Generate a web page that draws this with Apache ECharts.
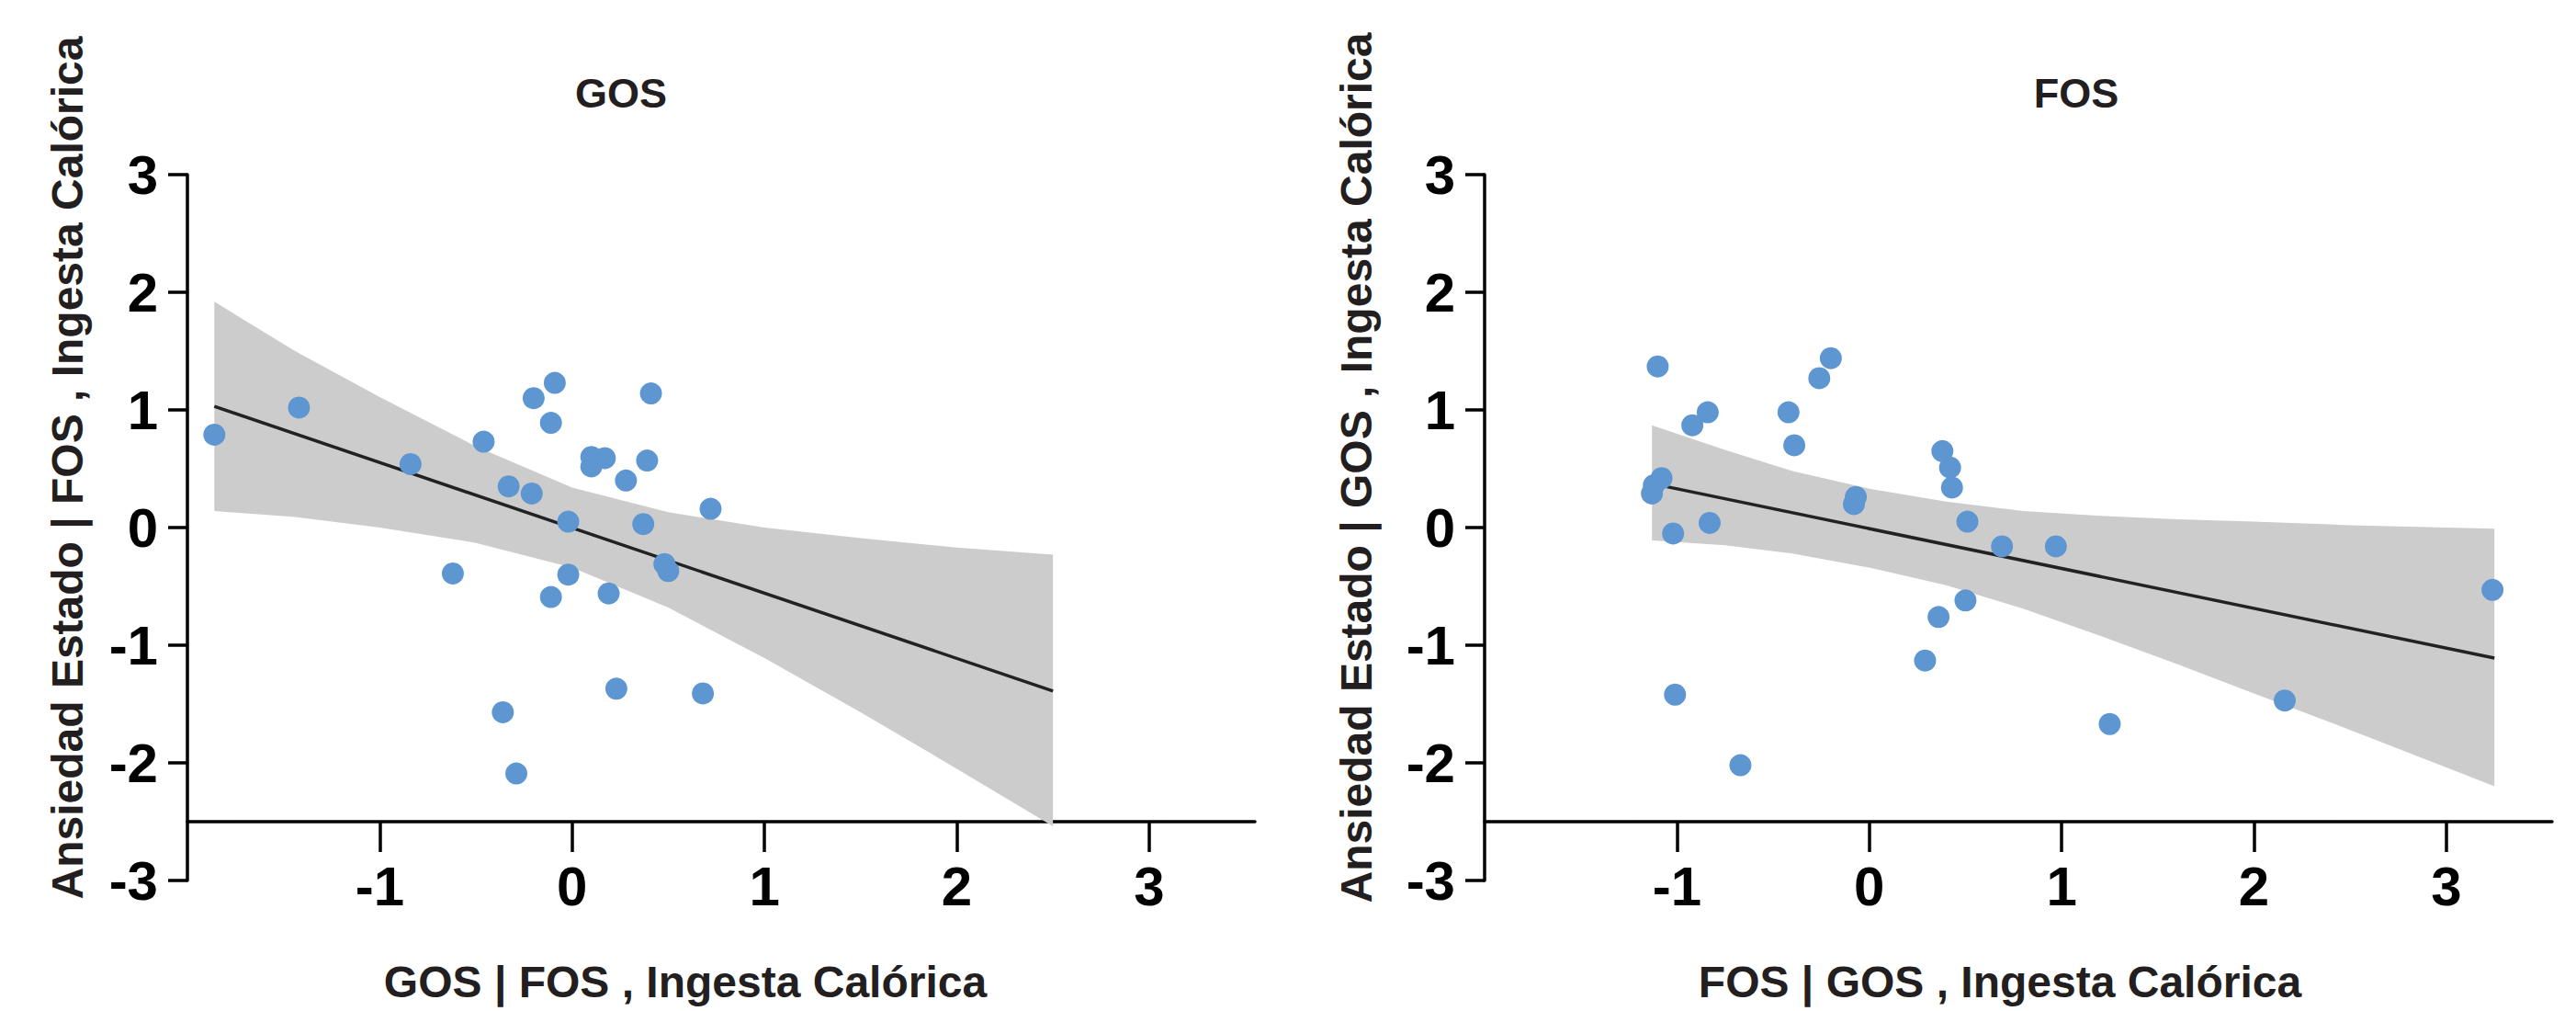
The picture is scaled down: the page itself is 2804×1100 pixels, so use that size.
<!DOCTYPE html>
<html>
<head>
<meta charset="utf-8">
<script src="https://cdn.jsdelivr.net/npm/echarts@6/dist/echarts.min.js"></script>
<style>
html,body{margin:0;padding:0;background:#fff;}
#chart{width:2804px;height:1100px;}
</style>
</head>
<body>
<div id="chart"></div>
<script>
// ---------- data ----------
const xTicks = [-1, 0, 1, 2, 3];
const yTicks = [-3, -2, -1, 0, 1, 2, 3];

const gosTitle = 'GOS';
const gosXName = 'GOS | FOS , Ingesta Calórica';
const gosYName = 'Ansiedad Estado | FOS , Ingesta Calórica';
const gosX = [-1.86, -1.42, -0.84, -0.46, -0.20, -0.09, -0.11, 0.41, 0.10, 0.17, 0.10, 0.39, 0.28, -0.33,
              -0.21, -0.02, 0.37, 0.48, 0.50, 0.72, -0.62, -0.02, -0.11, 0.19, 0.23, -0.36, -0.29, 0.68];
const gosY = [0.79, 1.02, 0.54, 0.73, 1.10, 1.23, 0.89, 1.14, 0.60, 0.59, 0.52, 0.57, 0.40, 0.35,
              0.29, 0.05, 0.03, -0.31, -0.37, 0.16, -0.39, -0.40, -0.59, -0.56, -1.37, -1.57, -2.09, -1.41];
const gosLineX = [-1.86, 2.50];
const gosLineY = [1.03, -1.39];
const gosBandX     = [-1.86, -1.44, -1.00, -0.50, 0.00, 0.50, 1.00, 1.50, 2.00, 2.50];
const gosBandUpper = [1.92, 1.50, 1.11, 0.69, 0.34, 0.13, 0.00, -0.09, -0.17, -0.23];
const gosBandLower = [0.14, 0.09, 0.00, -0.13, -0.34, -0.68, -1.11, -1.57, -2.05, -2.54];

const fosTitle = 'FOS';
const fosXName = 'FOS | GOS , Ingesta Calórica';
const fosYName = 'Ansiedad Estado | GOS , Ingesta Calórica';
const fosX = [-1.10, -0.84, -0.92, -0.42, -0.39, -0.26, -0.20, -1.08, -1.12, -1.13, -1.02, -0.83, -0.07, -0.08,
              0.38, 0.42, 0.43, 0.51, 0.69, 0.97, 0.50, 0.36, 0.29, -1.01, -0.67, 1.25, 2.16, 3.24];
const fosY = [1.37, 0.98, 0.87, 0.98, 0.70, 1.27, 1.44, 0.42, 0.36, 0.29, -0.05, 0.04, 0.26, 0.20,
              0.65, 0.51, 0.34, 0.05, -0.16, -0.16, -0.62, -0.76, -1.13, -1.42, -2.02, -1.67, -1.47, -0.53];
const fosLineX = [-1.12, 3.25];
const fosLineY = [0.37, -1.11];
const fosBandX     = [-1.13, -0.75, -0.40, 0.00, 0.40, 0.80, 1.20, 1.60, 2.00, 2.50, 3.00, 3.25];
const fosBandUpper = [0.87, 0.66, 0.48, 0.33, 0.22, 0.14, 0.10, 0.07, 0.05, 0.02, 0.00, -0.01];
const fosBandLower = [-0.11, -0.15, -0.22, -0.34, -0.49, -0.69, -0.92, -1.16, -1.41, -1.72, -2.04, -2.20];

// ---------- helpers ----------
const FONT = "'Liberation Sans', Arial, Helvetica, sans-serif";
const zip = (a, b) => a.map((v, i) => [v, b[i]]);

function bandSeries(idx, bx, bu, bl) {
  return {
    type: 'custom', xAxisIndex: idx, yAxisIndex: idx, silent: true, z: 1,
    data: [[bx[0], bu[0]]],
    renderItem: function (params, api) {
      const pts = [];
      for (let i = 0; i < bx.length; i++) pts.push(api.coord([bx[i], bu[i]]));
      for (let i = bx.length - 1; i >= 0; i--) pts.push(api.coord([bx[i], bl[i]]));
      return { type: 'polygon', shape: { points: pts }, style: { fill: '#cccccc' } };
    }
  };
}
function lineSeries(idx, lx, ly) {
  return {
    type: 'line', xAxisIndex: idx, yAxisIndex: idx, silent: true, z: 3,
    data: zip(lx, ly), showSymbol: false, symbol: 'none',
    lineStyle: { color: '#222222', width: 3.5 }
  };
}
function scatterSeries(idx, sx, sy) {
  return {
    type: 'scatter', xAxisIndex: idx, yAxisIndex: idx, z: 5,
    data: zip(sx, sy), symbolSize: 24,
    itemStyle: { color: '#5d96d0', opacity: 1 }
  };
}
function xAxisDef(idx) {
  return {
    type: 'value', gridIndex: idx, min: -2, max: 3.55, interval: 1,
    offset: -64,
    axisLine: { show: true, onZero: false, lineStyle: { color: '#000', width: 3.5 } },
    axisTick: { show: true, inside: false, length: 33, customValues: xTicks,
                lineStyle: { color: '#000', width: 3.5 } },
    axisLabel: { show: true, customValues: xTicks, margin: 40, fontSize: 60, fontWeight: 'bold',
                 fontFamily: FONT, color: '#000' },
    splitLine: { show: false }
  };
}
function yAxisDef(idx) {
  return {
    type: 'value', gridIndex: idx, min: -3, max: 3, interval: 1,
    axisLine: { show: true, onZero: false, lineStyle: { color: '#000', width: 3.5 } },
    axisTick: { show: true, inside: false, length: 21, customValues: yTicks,
                lineStyle: { color: '#000', width: 3.5 } },
    axisLabel: { show: true, customValues: yTicks, margin: 32, fontSize: 60, fontWeight: 'bold',
                 fontFamily: FONT, color: '#000' },
    splitLine: { show: false }
  };
}
function textEl(text, x, y, size, rot) {
  return {
    type: 'text', x: x, y: y, rotation: rot || 0, silent: true,
    style: { text: text, fontSize: size, fontWeight: 'bold', fontFamily: FONT, fill: '#231f20',
             textAlign: 'center', textVerticalAlign: 'middle' }
  };
}

const chart = echarts.init(document.getElementById('chart'), null, { renderer: 'svg', width: 2804, height: 1100 });
chart.setOption({
  backgroundColor: '#ffffff',
  animation: false,
  title: [
    { text: gosTitle, left: 671, top: 74, textAlign: 'center',
      textStyle: { fontSize: 45, fontWeight: 'bold', fontFamily: FONT, color: '#231f20' } },
    { text: fosTitle, left: 2255, top: 74, textAlign: 'center',
      textStyle: { fontSize: 45, fontWeight: 'bold', fontFamily: FONT, color: '#231f20' } }
  ],
  grid: [
    { left: 204, top: 190, width: 1162, height: 768, containLabel: false },
    { left: 1616, top: 190, width: 1162, height: 768, containLabel: false }
  ],
  xAxis: [xAxisDef(0), xAxisDef(1)],
  yAxis: [yAxisDef(0), yAxisDef(1)],
  graphic: [
    textEl(gosXName, 746, 1068, 48, 0),
    textEl(fosXName, 2177, 1068, 48, 0),
    textEl(gosYName, 73, 509, 48, Math.PI / 2),
    textEl(fosYName, 1476, 509, 48, Math.PI / 2)
  ],
  series: [
    bandSeries(0, gosBandX, gosBandUpper, gosBandLower),
    lineSeries(0, gosLineX, gosLineY),
    scatterSeries(0, gosX, gosY),
    bandSeries(1, fosBandX, fosBandUpper, fosBandLower),
    lineSeries(1, fosLineX, fosLineY),
    scatterSeries(1, fosX, fosY)
  ]
});
</script>
</body>
</html>
